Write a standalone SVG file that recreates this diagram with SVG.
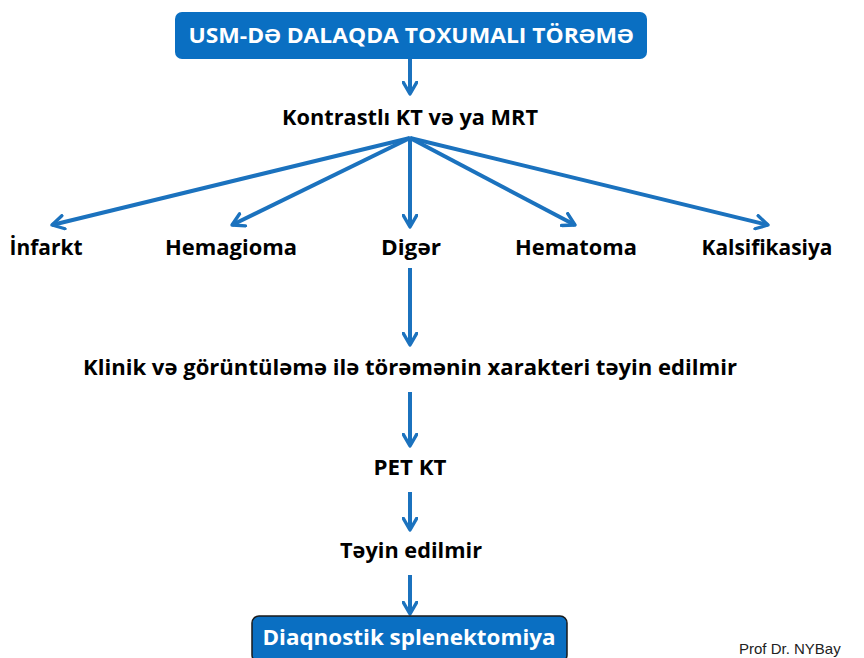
<svg xmlns="http://www.w3.org/2000/svg" width="864" height="658" viewBox="0 0 864 658">
<style>
.t{font-family:"Open Sans","Liberation Sans",sans-serif;font-weight:bold;font-size:21px;fill:#000}
.w{font-family:"Open Sans","Liberation Sans",sans-serif;font-weight:bold;font-size:21px;fill:#fff}
.c{stroke:#1b72be;stroke-width:4;fill:none;marker-end:url(#ah)}
</style>
<defs>
<marker id="ah" viewBox="0 0 10 10" refX="8" refY="5" markerWidth="4.2" markerHeight="4.2" orient="auto" markerUnits="strokeWidth">
<polyline points="1,1 8,5 1,9" fill="none" stroke="#1b72be" stroke-width="2" stroke-linecap="round" stroke-linejoin="round"/>
</marker>
</defs>
<rect width="864" height="658" fill="#fff"/>
<g id="connectors">
<line class="c" x1="410" y1="59" x2="410" y2="94"/>
<line class="c" x1="410" y1="138" x2="52" y2="225"/>
<line class="c" x1="410" y1="138" x2="232" y2="225"/>
<line class="c" x1="410" y1="138" x2="410" y2="227"/>
<line class="c" x1="410" y1="138" x2="575" y2="225"/>
<line class="c" x1="410" y1="138" x2="768" y2="225"/>
<line class="c" x1="410" y1="268" x2="410" y2="345"/>
<line class="c" x1="410" y1="392" x2="410" y2="446"/>
<line class="c" x1="410" y1="492" x2="410" y2="530"/>
<line class="c" x1="410" y1="575" x2="410" y2="614"/>
</g>
<g id="n-top">
<rect x="175" y="12" width="472" height="47" rx="7" fill="#0a6fc2"/>
<text class="w" x="411" y="43" text-anchor="middle" textLength="445" lengthAdjust="spacingAndGlyphs">USM-DƏ DALAQDA TOXUMALI TÖRƏMƏ</text>
</g>
<g id="n-kt"><text class="t" x="410" y="125" text-anchor="middle" textLength="256" lengthAdjust="spacingAndGlyphs">Kontrastlı KT və ya MRT</text></g>
<g id="n-infarkt"><text class="t" x="46" y="255" text-anchor="middle" textLength="73" lengthAdjust="spacingAndGlyphs">İnfarkt</text></g>
<g id="n-hemagioma"><text class="t" x="231" y="255" text-anchor="middle" textLength="132" lengthAdjust="spacingAndGlyphs">Hemagioma</text></g>
<g id="n-diger"><text class="t" x="411" y="255" text-anchor="middle" textLength="60" lengthAdjust="spacingAndGlyphs">Digər</text></g>
<g id="n-hematoma"><text class="t" x="576" y="255" text-anchor="middle" textLength="122" lengthAdjust="spacingAndGlyphs">Hematoma</text></g>
<g id="n-kalsifikasiya"><text class="t" x="767" y="255" text-anchor="middle" textLength="131" lengthAdjust="spacingAndGlyphs">Kalsifikasiya</text></g>
<g id="n-klinik"><text class="t" x="410" y="375" text-anchor="middle" textLength="654" lengthAdjust="spacingAndGlyphs">Klinik və görüntüləmə ilə törəmənin xarakteri təyin edilmir</text></g>
<g id="n-pet"><text class="t" x="410" y="475" text-anchor="middle" textLength="73" lengthAdjust="spacingAndGlyphs">PET KT</text></g>
<g id="n-teyin"><text class="t" x="411" y="558" text-anchor="middle" textLength="142" lengthAdjust="spacingAndGlyphs">Təyin edilmir</text></g>
<g id="n-splen">
<rect x="252" y="616" width="315" height="46" rx="7" fill="#0a6fc2" stroke="#1a1a1a" stroke-width="1.5"/>
<text class="w" x="409" y="645" text-anchor="middle" textLength="293" lengthAdjust="spacingAndGlyphs">Diaqnostik splenektomiya</text>
</g>
<text x="739" y="654" font-family="Liberation Sans, Arial, sans-serif" font-size="15" fill="#222">Prof Dr. NYBay</text>
</svg>
